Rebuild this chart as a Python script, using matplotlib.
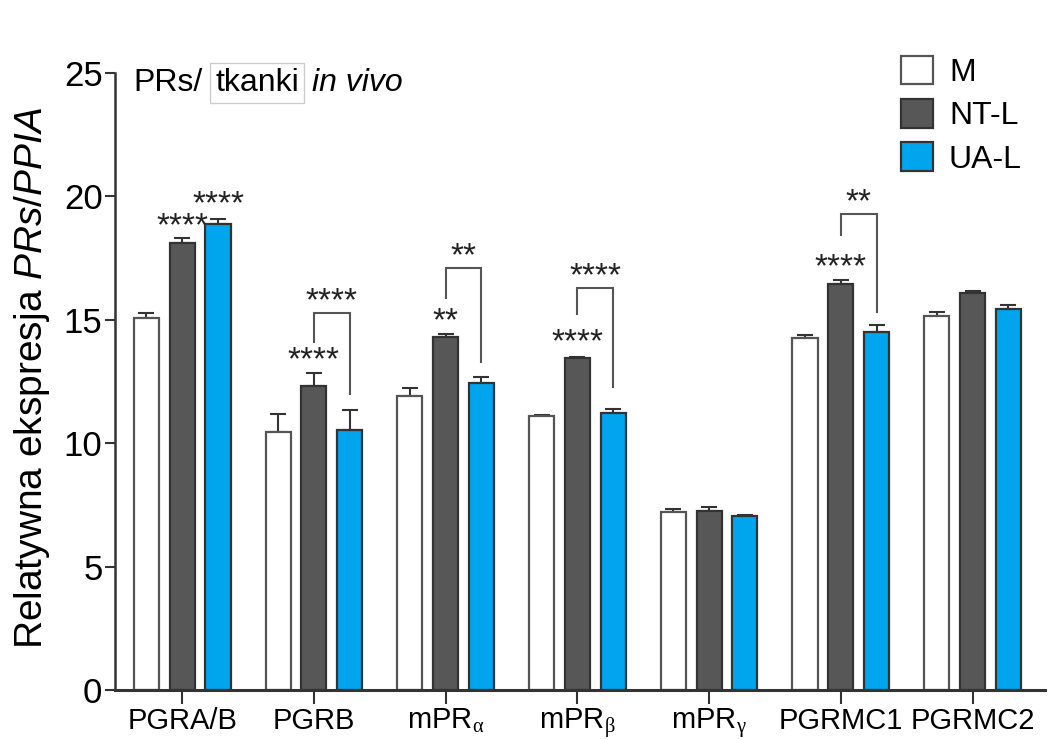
import numpy as np
import matplotlib.pyplot as plt

plt.rcParams['font.family'] = ['Liberation Sans', 'DejaVu Sans']
plt.rcParams['mathtext.fontset'] = 'custom'
plt.rcParams['mathtext.rm'] = 'Liberation Sans'
plt.rcParams['mathtext.it'] = 'Liberation Sans:italic'
plt.rcParams['mathtext.sf'] = 'Liberation Serif'

# dane: średnie + SEM (tylko górna część)
genes = ['PGRA/B', 'PGRB', r'mPR$_{\mathsf{\alpha}}$', r'mPR$_{\mathsf{\beta}}$',
         r'mPR$_{\mathsf{\gamma}}$', 'PGRMC1', 'PGRMC2']
groups = ['M', 'NT-L', 'UA-L']
mean_M   = [15.07, 10.45, 11.9, 11.1, 7.2, 14.25, 15.15]
mean_NTL = [18.1, 12.3, 14.3, 13.45, 7.25, 16.45, 16.1]
mean_UAL = [18.9, 10.53, 12.43, 11.22, 7.05, 14.5, 15.45]
sem_M    = [0.2, 0.73, 0.35, 0.05, 0.15, 0.15, 0.15]
sem_NTL  = [0.2, 0.54, 0.12, 0.05, 0.15, 0.15, 0.05]
sem_UAL  = [0.2, 0.8, 0.27, 0.15, 0.05, 0.3, 0.15]

# gwiazdki nad słupkami (gen, seria, środek gwiazdek, tekst)
stars = [
    (0, 1, 19.1, '****'), (0, 2, 20.0, '****'),
    (1, 1, 13.65, '****'), (2, 1, 15.23, '**'),
    (3, 1, 14.4, '****'), (5, 1, 17.42, '****'),
]
# klamry NT-L vs UA-L: (gen, dół lewej nogi, dół prawej nogi, góra, tekst)
brackets = [
    (1, 14.1, 12.0, 15.27, '****'),
    (2, 15.9, 13.3, 17.1, '**'),
    (3, 15.23, 12.28, 16.3, '****'),
    (5, 18.44, 15.3, 19.29, '**'),
]
STAR_FS = 24
STAR_OFF = 0.95   # od dolnej krawędzi tekstu do środka gwiazdek

fig = plt.figure(figsize=(10.56, 7.4), dpi=100)
ax = fig.add_axes([115/1056, 50/740, 930/1056, 617/740])

x = np.arange(len(genes))
off = 0.272
w = 0.19
face = ['white', '#575757', '#00a5ee']
edge = ['#555555', '#333333', '#333333']
means = [mean_M, mean_NTL, mean_UAL]
sems = [sem_M, sem_NTL, sem_UAL]

for i, (m, s) in enumerate(zip(means, sems)):
    pos = x + (i - 1) * off
    ax.bar(pos, m, width=w, color=face[i], edgecolor=edge[i], linewidth=1.6,
           label=groups[i], zorder=2)
    ax.errorbar(pos, m, yerr=[np.zeros(len(s)), s], fmt='none', ecolor='#333333',
                elinewidth=1.5, capsize=6, capthick=1.5, zorder=1)

for g, k, yc, t in stars:
    ax.text(x[g] + (k - 1) * off, yc - STAR_OFF, t, ha='center', va='bottom',
            fontsize=STAR_FS, color='#222222')

for g, yl, yr, top, t in brackets:
    xl, xr = x[g], x[g] + off
    ax.plot([xl, xl, xr, xr], [yl, top, top, yr], color='#555555', lw=1.5,
            solid_joinstyle='miter')
    ax.text((xl + xr) / 2, top + 0.78 - STAR_OFF, t, ha='center', va='bottom',
            fontsize=STAR_FS, color='#222222')

ax.set_xlim(-0.51, 6.55)
ax.set_ylim(0, 25)
ax.set_yticks([0, 5, 10, 15, 20, 25])
ax.set_xticks(x)
ax.set_xticklabels(genes, fontsize=21)
ax.tick_params(axis='y', labelsize=25, length=7, width=1.5, color='#333333', pad=2)
ax.tick_params(axis='x', length=10, width=1.5, color='#333333', pad=2)
for sp in ['top', 'right']:
    ax.spines[sp].set_visible(False)
ax.spines['left'].set_linewidth(1.8)
ax.spines['left'].set_color('#333333')
ax.spines['bottom'].set_linewidth(2.2)
ax.spines['bottom'].set_color('#333333')

fig.text(32/1056, 1 - 378/740, r'Relatywna ekspresja $\it{PRs/PPIA}$', rotation=90,
         ha='center', va='center', fontsize=28)

# tytuł panelu
fig.text(133/1056, 1 - 91/740, 'PRs/', fontsize=23, va='baseline')
fig.text(215/1056, 1 - 91/740, 'tkanki', fontsize=23, va='baseline',
         bbox=dict(boxstyle='square,pad=0.15', fc='white', ec='#cccccc', lw=1))
fig.text(312/1056, 1 - 91/740, 'in vivo', fontsize=23, va='baseline', style='italic')

ax.legend(loc='upper right', bbox_to_anchor=(0.989, 1.049), frameon=False,
          fontsize=23, handlelength=1.0, handleheight=1.0, handletextpad=0.5,
          labelspacing=0.35, borderaxespad=0)

plt.savefig('out.png', dpi=100)
